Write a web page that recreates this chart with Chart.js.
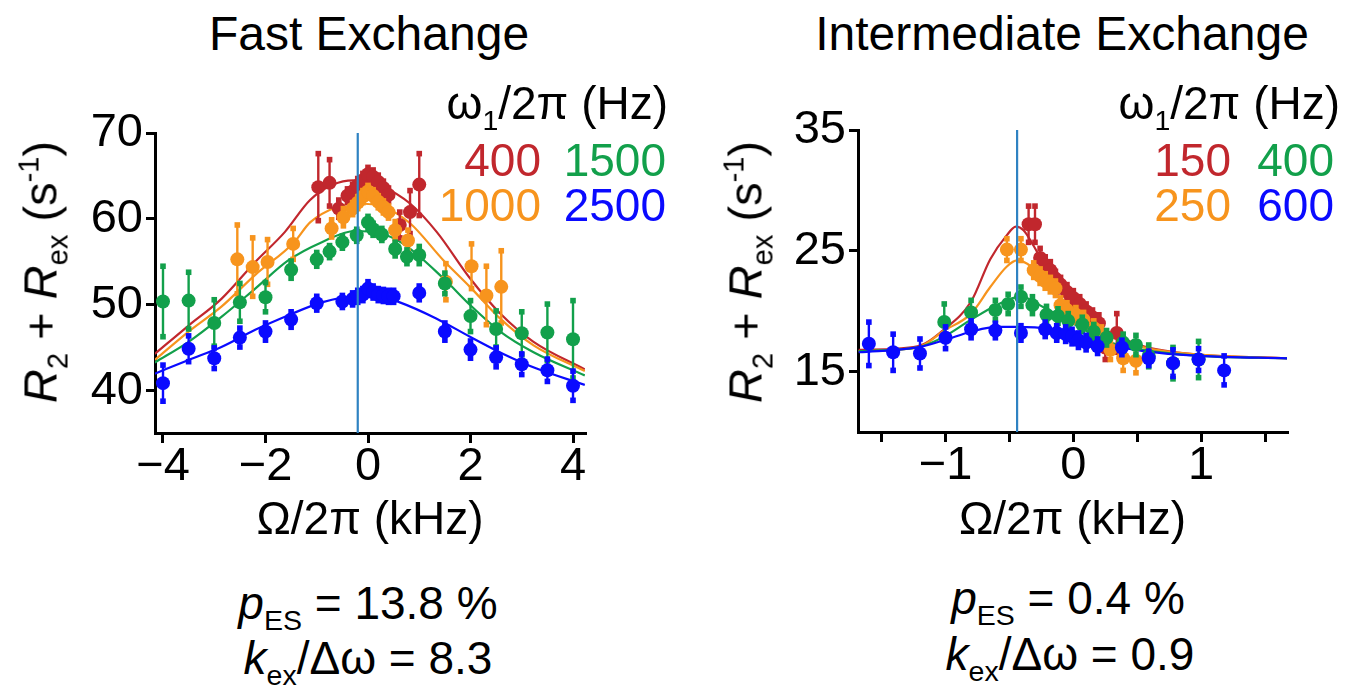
<!DOCTYPE html>
<html><head><meta charset="utf-8">
<script src="https://cdn.jsdelivr.net/npm/chart.js@4.4.1/dist/chart.umd.min.js"></script>
<style>
html,body{margin:0;padding:0}
body{width:1359px;height:687px;background:#fff;position:relative;overflow:hidden;font-family:"Liberation Sans",Arial,Helvetica,sans-serif;color:#000}
.t{position:absolute;white-space:nowrap;line-height:1}
canvas{position:absolute}
.sub{font-size:0.62em;position:relative;top:0.38em}
.sup{font-size:0.62em;position:relative;top:-0.62em}
</style></head><body>
<canvas id="c1" width="610" height="450" style="left:0px;top:100px"></canvas>
<canvas id="c2" width="659" height="450" style="left:700px;top:100px"></canvas>
<div id="txt"></div>
<script>
// ---------- Fast exchange (left) ----------
const fastTicksX = [-4, -2, 0, 2, 4];
const fastTicksY = [40, 50, 60, 70];
const fastVLine = -0.2;

const fast400X = [-0.97, -0.75, -0.57, -0.4, -0.3, -0.2, -0.1, 0.0, 0.1, 0.2, 0.3, 0.4, 0.62, 0.82, 1.0];
const fast400Y = [63.7, 64.2, 61.2, 62.7, 63.2, 63.9, 64.5, 65.2, 64.9, 64.3, 63.6, 62.8, 59.3, 60.8, 64.0];
const fast400E = [3.9, 2.7, 1.0, 0.8, 0.8, 0.8, 0.8, 0.8, 0.8, 0.8, 0.8, 0.8, 1.5, 2.5, 3.6];

const fast1000X = [-2.55, -2.25, -1.96, -1.46, -0.71, -0.48, -0.3, -0.2, -0.1, 0.0, 0.1, 0.2, 0.3, 0.4, 0.53, 0.78, 1.52, 2.02, 2.31, 2.6];
const fast1000Y = [55.3, 54.4, 55.0, 57.1, 58.9, 60.2, 61.2, 61.9, 62.6, 63.2, 62.7, 62.0, 61.4, 60.8, 58.7, 57.5, 52.7, 54.5, 51.1, 52.1];
const fast1000E = [4.0, 3.4, 2.6, 1.8, 1.0, 1.0, 0.7, 0.7, 0.7, 0.7, 0.7, 0.7, 0.7, 0.7, 1.0, 1.2, 2.1, 2.6, 3.4, 4.2];

const fast1500X = [-4.0, -3.5, -3.0, -2.5, -2.0, -1.5, -1.0, -0.75, -0.5, -0.22, 0.0, 0.1, 0.27, 0.53, 0.76, 1.0, 1.5, 2.0, 2.5, 3.0, 3.5, 4.0];
const fast1500Y = [50.4, 50.5, 47.9, 50.3, 50.9, 54.1, 55.3, 56.2, 57.3, 58.1, 59.6, 58.8, 58.2, 56.5, 55.6, 55.8, 52.5, 48.7, 47.2, 46.7, 46.8, 46.0];
const fast1500E = [4.1, 3.3, 2.7, 2.2, 1.7, 1.0, 0.8, 0.7, 0.7, 0.7, 0.7, 0.7, 0.7, 0.8, 0.8, 1.0, 1.2, 1.8, 2.1, 2.5, 3.3, 4.5];

const fast2500X = [-4.0, -3.5, -3.0, -2.5, -2.0, -1.5, -1.0, -0.5, -0.3, -0.2, -0.1, 0.0, 0.1, 0.2, 0.3, 0.4, 0.5, 1.0, 1.5, 2.0, 2.5, 3.0, 3.5, 4.0];
const fast2500Y = [40.9, 44.9, 43.8, 46.2, 46.9, 48.3, 50.2, 50.4, 50.7, 51.0, 51.2, 51.9, 51.5, 51.2, 51.1, 51.0, 51.0, 51.4, 46.9, 44.8, 43.9, 43.1, 42.4, 40.6];
const fast2500E = [2.1, 1.5, 1.2, 1.1, 1.0, 0.9, 0.8, 0.7, 0.7, 0.7, 0.7, 0.8, 0.7, 0.7, 0.7, 0.7, 0.7, 0.8, 1.0, 1.0, 1.1, 1.2, 1.3, 1.7];

const fastFit400X = [-4.16, -3.5, -2.86, -2.2, -1.62, -1.13, -0.68, -0.29, 0.3, 0.82, 1.34, 1.99, 2.58, 3.23, 4.23];
const fastFit400Y = [44.3, 47.6, 50.7, 55.0, 58.5, 62.2, 64.0, 64.5, 63.7, 61.8, 58.5, 53.1, 49.0, 45.7, 42.5];
const fastFit1000X = [-4.16, -3.5, -2.86, -2.2, -1.44, -1.13, -0.61, -0.22, 0.3, 0.82, 1.47, 1.99, 2.58, 3.23, 4.23];
const fastFit1000Y = [43.6, 46.9, 49.8, 53.5, 57.3, 59.6, 61.4, 61.8, 61.4, 59.5, 55.2, 52.1, 48.4, 45.3, 42.3];
const fastFit1500X = [-4.16, -3.5, -2.86, -2.2, -1.55, -0.9, -0.25, 0.2, 0.69, 1.47, 1.99, 2.58, 3.23, 4.23];
const fastFit1500Y = [43.3, 45.7, 48.6, 51.9, 55.2, 57.3, 58.6, 58.4, 57.1, 53.1, 50.0, 46.9, 44.5, 41.8];
const fastFit2500X = [-4.16, -3.5, -2.86, -2.2, -1.55, -0.9, -0.25, 0.2, 0.62, 1.34, 1.99, 2.64, 3.29, 4.23];
const fastFit2500Y = [42.0, 43.6, 45.1, 47.1, 48.8, 50.3, 51.0, 51.0, 50.3, 48.4, 46.3, 44.3, 42.6, 40.7];

// ---------- Intermediate exchange (right) ----------
const intTicksX = [-1.5, -1, -0.5, 0, 0.5, 1, 1.5];
const intTicksY = [15, 25, 35];
const intVLine = -0.44;

const int150X = [-0.35, -0.3, -0.26, -0.22, -0.18, -0.14, -0.1, -0.05, 0.0, 0.05, 0.1, 0.15, 0.2, 0.25, 0.34];
const int150Y = [27.2, 27.2, 24.4, 23.8, 23.4, 22.7, 22.2, 21.6, 21.1, 20.6, 20.0, 19.5, 19.0, 17.0, 18.2];
const int150E = [1.5, 1.5, 0.8, 0.7, 0.7, 0.6, 0.6, 0.6, 0.6, 0.6, 0.6, 0.6, 0.7, 1.0, 1.6];

const int250X = [-0.52, -0.41, -0.31, -0.26, -0.22, -0.18, -0.14, -0.1, -0.05, 0.02, 0.08, 0.16, 0.22, 0.29, 0.39, 0.49];
const int250Y = [25.1, 25.1, 23.4, 22.9, 22.5, 22.2, 21.9, 20.5, 20.1, 19.7, 19.3, 18.6, 18.1, 16.8, 16.1, 15.9];
const int250E = [0.9, 0.9, 0.6, 0.6, 0.6, 0.6, 0.6, 0.6, 0.6, 0.6, 0.6, 0.6, 0.6, 0.8, 1.0, 1.0];

const int400X = [-1.01, -0.8, -0.61, -0.51, -0.41, -0.32, -0.21, -0.12, -0.04, 0.07, 0.16, 0.26, 0.39, 0.49, 0.59, 0.78, 0.98];
const int400Y = [19.1, 19.9, 20.1, 20.6, 21.2, 20.5, 19.7, 19.6, 19.2, 18.9, 18.3, 17.8, 17.4, 17.2, 16.3, 15.7, 16.0];
const int400E = [1.5, 1.0, 0.8, 0.8, 0.8, 0.7, 0.7, 0.6, 0.6, 0.6, 0.6, 0.6, 0.7, 0.8, 0.9, 1.3, 1.5];

const int600X = [-1.6, -1.41, -1.2, -1.0, -0.8, -0.61, -0.41, -0.22, -0.13, -0.06, -0.01, 0.04, 0.1, 0.19, 0.38, 0.59, 0.78, 0.98, 1.18];
const int600Y = [17.3, 16.6, 16.5, 17.8, 18.5, 18.4, 18.2, 18.5, 18.2, 18.1, 17.9, 17.6, 17.4, 17.1, 17.0, 16.1, 15.7, 16.0, 15.1];
const int600E = [1.8, 1.5, 1.2, 0.9, 0.7, 0.6, 0.6, 0.6, 0.6, 0.6, 0.6, 0.6, 0.6, 0.6, 0.6, 0.6, 1.1, 0.9, 1.2];

const intFit150X = [-1.68, -1.22, -1.01, -0.8, -0.65, -0.52, -0.45, -0.39, -0.31, -0.18, 0.03, 0.24, 0.55, 0.99, 1.68];
const intFit150Y = [16.8, 17.1, 18.5, 20.8, 24.3, 26.3, 27.0, 26.7, 25.4, 22.9, 20.1, 18.5, 17.1, 16.4, 16.1];
const intFit250X = [-1.68, -1.22, -1.01, -0.8, -0.65, -0.52, -0.44, -0.33, -0.18, 0.03, 0.24, 0.55, 0.99, 1.68];
const intFit250Y = [16.7, 17.0, 18.4, 19.8, 22.0, 23.7, 24.2, 23.7, 22.0, 19.6, 18.2, 17.0, 16.4, 16.1];
const intFit400X = [-1.68, -1.22, -1.01, -0.8, -0.6, -0.41, -0.23, 0.03, 0.24, 0.55, 0.99, 1.68];
const intFit400Y = [16.7, 17.0, 17.9, 19.3, 20.5, 21.2, 20.3, 18.8, 17.6, 16.8, 16.3, 16.1];
const intFit600X = [-1.68, -1.22, -1.01, -0.8, -0.6, -0.44, -0.18, 0.03, 0.24, 0.55, 0.99, 1.68];
const intFit600Y = [16.6, 17.0, 17.6, 18.3, 18.7, 18.7, 18.5, 17.9, 17.3, 16.7, 16.3, 16.1];

// ---------- styling ----------
const RED = '#c1272d', ORANGE = '#f7941d', GREEN = '#12a04b', BLUE = '#0a0aff', VLINE = '#2f82c2';
const FONT = '"Liberation Sans", Arial, sans-serif';

const zip = (xs, ys) => xs.map((x, i) => ({x: x, y: ys[i]}));
const fmt = v => (v < 0 ? '\u2212' + Math.abs(v) : String(v));

const errPlugin = {
  id: 'err',
  beforeDatasetDraw(chart, args) {
    const ds = chart.data.datasets[args.index];
    if (!ds.err) return;
    const ctx = chart.ctx, x = chart.scales.x, y = chart.scales.y;
    ctx.save();
    ctx.strokeStyle = ds.backgroundColor; ctx.fillStyle = ds.backgroundColor; ctx.lineWidth = 2.4;
    ds.data.forEach((p, i) => {
      const px = x.getPixelForValue(p.x);
      const y1 = y.getPixelForValue(p.y + ds.err[i]), y2 = y.getPixelForValue(p.y - ds.err[i]);
      ctx.beginPath(); ctx.moveTo(px, y1); ctx.lineTo(px, y2); ctx.stroke();
      ctx.fillRect(px - 2.8, y1 - 2.8, 5.6, 5.6); ctx.fillRect(px - 2.8, y2 - 2.8, 5.6, 5.6);
    });
    ctx.restore();
  },
  afterDatasetsDraw(chart, args, opts) {
    if (opts.vline === undefined) return;
    const ctx = chart.ctx, a = chart.chartArea;
    const px = chart.scales.x.getPixelForValue(opts.vline);
    ctx.save(); ctx.strokeStyle = VLINE; ctx.lineWidth = 2.2;
    ctx.beginPath(); ctx.moveTo(px, a.top); ctx.lineTo(px, a.bottom); ctx.stroke();
    ctx.restore();
  }
};

function pts(xs, ys, es, color, order) {
  return {data: zip(xs, ys), err: es, backgroundColor: color, borderColor: color, borderWidth: 0,
    pointRadius: 7, pointHoverRadius: 7, showLine: false, order: order};
}
function fit(xs, ys, color, order) {
  return {data: zip(xs, ys), borderColor: color, backgroundColor: color, borderWidth: 2.2,
    pointRadius: 0, showLine: true, cubicInterpolationMode: 'monotone', order: order};
}

function makeChart(id, sets, cfg) {
  return new Chart(document.getElementById(id), {
    type: 'scatter',
    data: {datasets: sets},
    plugins: [errPlugin],
    options: {
      responsive: false, animation: false, devicePixelRatio: 1,
      layout: {padding: cfg.pad},
      plugins: {legend: {display: false}, tooltip: {enabled: false}, err: {vline: cfg.vline}},
      scales: {
        x: {
          type: 'linear', min: cfg.xmin, max: cfg.xmax,
          afterBuildTicks: s => { s.ticks = cfg.xticks.map(v => ({value: v})); },
          afterFit: s => { s.height = cfg.xh; },
          border: {display: true, color: '#000', width: 3},
          grid: {display: true, drawOnChartArea: false, drawTicks: true, tickLength: 10, color: '#000', lineWidth: 3},
          ticks: {color: '#000', padding: 1, maxRotation: 0, autoSkip: false,
            font: {family: FONT, size: 47, lineHeight: 1.0},
            callback: v => (cfg.xlabelAll || Number.isInteger(v) ? fmt(v) : '')},
          title: {display: true, text: '\u03A9/2\u03C0 (kHz)', color: '#000',
            font: {family: FONT, size: 46, lineHeight: 1.1}, padding: {top: 0, bottom: 3}}
        },
        y: {
          type: 'linear', min: cfg.ymin, max: cfg.ymax,
          afterBuildTicks: s => { s.ticks = cfg.yticks.map(v => ({value: v})); },
          afterFit: s => { s.width = cfg.yw; },
          border: {display: true, color: '#000', width: 3},
          grid: {display: true, drawOnChartArea: false, drawTicks: true, tickLength: 9, color: '#000', lineWidth: 3},
          ticks: {color: '#000', padding: 3, font: {family: FONT, size: 47, lineHeight: 1.0}, callback: v => fmt(v)}
        }
      }
    }
  });
}

makeChart('c1', [
  pts(fast2500X, fast2500Y, fast2500E, BLUE, 0),
  pts(fast1500X, fast1500Y, fast1500E, GREEN, 1),
  pts(fast1000X, fast1000Y, fast1000E, ORANGE, 2),
  pts(fast400X, fast400Y, fast400E, RED, 3),
  fit(fastFit2500X, fastFit2500Y, BLUE, 4),
  fit(fastFit1500X, fastFit1500Y, GREEN, 5),
  fit(fastFit1000X, fastFit1000Y, ORANGE, 6),
  fit(fastFit400X, fastFit400Y, RED, 7)
], {pad: {top: 33, right: 25, left: 0, bottom: 0}, xmin: -4.156, xmax: 4.234, ymin: 35.1, ymax: 70,
    xticks: fastTicksX, yticks: fastTicksY, xh: 117, yw: 155, vline: fastVLine, xlabelAll: true});

makeChart('c2', [
  pts(int600X, int600Y, int600E, BLUE, 0),
  pts(int400X, int400Y, int400E, GREEN, 1),
  pts(int250X, int250Y, int250E, ORANGE, 2),
  pts(int150X, int150Y, int150E, RED, 3),
  fit(intFit600X, intFit600Y, BLUE, 4),
  fit(intFit400X, intFit400Y, GREEN, 5),
  fit(intFit250X, intFit250Y, ORANGE, 6),
  fit(intFit150X, intFit150Y, RED, 7)
], {pad: {top: 30, right: 72, left: 0, bottom: 0}, xmin: -1.685, xmax: 1.672, ymin: 10, ymax: 35,
    xticks: intTicksX, yticks: intTicksY, xh: 118, yw: 158, vline: intVLine, xlabelAll: false});

// ---------- text ----------
const txt = document.getElementById('txt');
function place(html, x, base, size, align, color, extra) {
  const d = document.createElement('div');
  d.className = 't';
  d.innerHTML = html;
  d.style.fontSize = size + 'px';
  d.style.top = (base - 0.8465 * size) + 'px';
  d.style.left = x + 'px';
  if (color) d.style.color = color;
  const tx = align === 'center' ? '-50%' : align === 'right' ? '-100%' : '0';
  d.style.transform = 'translateX(' + tx + ')' + (extra || '');
  txt.appendChild(d);
  return d;
}
const header = '\u03C9<span class="sub">1</span>/2\u03C0 (Hz)';
const ytitle = '<i>R</i><span class="sub">2</span> + <i>R</i><span class="sub">ex</span> (s<span class="sup">-1</span>)';

place('Fast Exchange', 369, 51, 48, 'center');
place('Intermediate Exchange', 1062, 51, 48, 'center');

place(header, 668, 119, 46, 'right');
place('400', 541, 176, 46, 'right', RED);
place('1500', 666, 176, 46, 'right', GREEN);
place('1000', 541, 221, 46, 'right', ORANGE);
place('2500', 666, 221, 46, 'right', BLUE);

place(header, 1340, 119, 46, 'right');
place('150', 1231, 176, 46, 'right', RED);
place('400', 1334, 176, 46, 'right', GREEN);
place('250', 1231, 221, 46, 'right', ORANGE);
place('600', 1334, 221, 46, 'right', BLUE);

place('<i>p</i><span class="sub">ES</span> = 13.8 %', 368, 619, 46, 'center');
place('<i>k</i><span class="sub">ex</span>/\u0394\u03C9 = 8.3', 368, 674, 46, 'center');
place('<i>p</i><span class="sub">ES</span> = 0.4 %', 1068, 614, 46, 'center');
place('<i>k</i><span class="sub">ex</span>/\u0394\u03C9 = 0.9', 1070, 670, 46, 'center');

function ytitleAt(cx, cy) {
  const d = document.createElement('div');
  d.className = 't';
  d.innerHTML = ytitle;
  d.style.fontSize = '47px';
  d.style.left = cx + 'px';
  d.style.top = cy + 'px';
  d.style.transform = 'translate(-50%,-50%) rotate(-90deg)';
  txt.appendChild(d);
}
ytitleAt(40, 272);
ytitleAt(745, 272);
</script>
</body></html>
